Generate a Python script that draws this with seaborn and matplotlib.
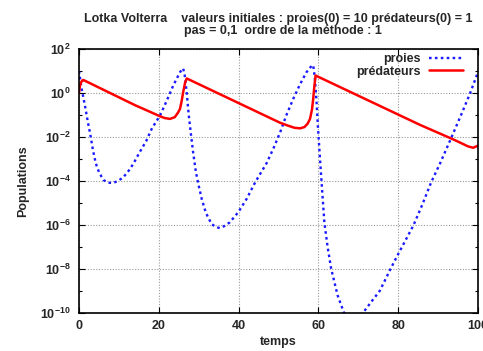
import math
import matplotlib
matplotlib.use("Agg")
import matplotlib.pyplot as plt
from matplotlib.ticker import FixedLocator, FuncFormatter, NullFormatter
from matplotlib.lines import Line2D
import pandas as pd
import seaborn as sns

# Euler scheme (step 0.1): prey and predator populations over time
t_proies = [0, 0.67, 1.5, 2.3, 2.8, 3.5, 4.2, 5.0, 6.1, 7.3, 8.5, 9.8, 11.1, 12.4,
            13.6, 15.2, 16.9, 18.3, 20.3, 22.0, 23.6, 25.3, 25.8, 26.1, 26.5, 27.0,
            27.5, 28.0, 28.6, 29.3, 30.1, 30.8, 31.8, 33.2, 34.3, 35.3, 36.5, 37.8,
            39.9, 42.0, 44.2, 47.0, 48.8, 50.4, 52.0, 53.7, 55.4, 57.0, 58.0, 58.7,
            59.1, 59.5, 59.9, 60.4, 61.0, 61.5, 62.3, 63.2, 64.8, 66.4, 68.7, 71.2,
            73.3, 75.4, 78.1, 79.6, 83.8, 86.0, 88.3, 90.5, 93.4, 96.0, 98.0, 100]
proies = [10.0, 1.5, 2.6e-1, 4.0e-2, 1.4e-2, 2.5e-3, 6.3e-4, 2.5e-4, 1.1e-4, 8.3e-5,
          7.9e-5, 1.0e-4, 1.45e-4, 2.8e-4, 5.9e-4, 2.0e-3, 6.8e-3, 2.5e-2, 9.3e-2,
          0.45, 2.14, 8.7, 11.7, 13.2, 6.3, 1.0, 0.1, 1.6e-2, 2.0e-3, 2.5e-4, 5.0e-5,
          1.4e-5, 3.5e-6, 1.1e-6, 7.9e-7, 7.1e-7, 8.9e-7, 1.3e-6, 3.7e-6, 1.5e-5,
          8.9e-5, 6.3e-4, 3.2e-3, 1.6e-2, 0.1, 0.54, 2.5, 8.7, 14.8, 18.6, 5.0, 0.5,
          2.5e-2, 1.0e-3, 2.5e-5, 1.26e-6, 1.0e-7, 1.0e-8, 6.3e-10, 1.0e-10, 4.0e-11,
          1.0e-10, 3.2e-10, 1.0e-9, 1.0e-8, 3.4e-8, 9.3e-7, 7.9e-6, 8.9e-5, 6.3e-4,
          1.0e-2, 0.126, 0.95, 8.9]

t_predateurs = [0, 0.25, 0.5, 0.8, 1.08, 14.0, 20.3, 21.5, 22.8, 24.0, 24.8, 25.3,
                25.7, 26.1, 26.6, 27.0, 50.4, 52.5, 54.0, 55.4, 56.5, 57.3, 57.9,
                58.4, 58.7, 59.0, 59.3, 85.5, 93.4, 96.0, 97.5, 98.8, 100]
predateurs = [1.0, 2.14, 3.0, 3.63, 3.9, 0.28, 8.7e-2, 7.2e-2, 6.6e-2, 7.9e-2, 0.126,
              0.186, 0.4, 1.07, 3.0, 4.57, 4.4e-2, 3.2e-2, 2.6e-2, 2.45e-2, 2.8e-2,
              4.0e-2, 6.6e-2, 0.18, 0.54, 2.14, 6.2, 3.5e-2, 8.3e-3, 5.0e-3, 3.7e-3,
              3.2e-3, 4.0e-3]

x_ticks = [0, 20, 40, 60, 80, 100]
y_major = [1e-10, 1e-8, 1e-6, 1e-4, 1e-2, 1e0, 1e2]
y_minor = [1e-9, 1e-7, 1e-5, 1e-3, 1e-1, 1e1]

titre1 = "Lotka Volterra    valeurs initiales : proies(0) = 10 prédateurs(0) = 1"
titre2 = "pas = 0,1  ordre de la méthode : 1"

sns.set_style("ticks")
plt.rcParams["font.family"] = ["Liberation Sans", "DejaVu Sans"]
plt.rcParams["font.weight"] = "bold"
plt.rcParams["mathtext.fontset"] = "custom"
plt.rcParams["mathtext.rm"] = "Liberation Sans:bold"
plt.rcParams["mathtext.bf"] = "Liberation Sans:bold"
plt.rcParams["mathtext.default"] = "rm"

fig = plt.figure(figsize=(4.83, 3.51), dpi=100)
W, H = 483, 351
ax = fig.add_axes([79 / W, 1 - 312.7 / H, (478 - 79) / W, (312.7 - 49) / H])

df_p = pd.DataFrame({"temps": t_proies, "pop": proies})
df_q = pd.DataFrame({"temps": t_predateurs, "pop": predateurs})

bleu = "#1a1aff"
rouge = "#ff0000"
pointille = (0, (1.1, 1.4))

sns.lineplot(data=df_p, x="temps", y="pop", ax=ax, color=bleu, lw=1.7,
             linestyle=pointille, sort=False, estimator=None)
sns.lineplot(data=df_q, x="temps", y="pop", ax=ax, color=rouge, lw=1.8,
             sort=False, estimator=None)

ax.set_yscale("log")
ax.set_xlim(0, 100)
ax.set_ylim(1e-10, 1e2)

ax.xaxis.set_major_locator(FixedLocator(x_ticks))
ax.xaxis.set_minor_locator(FixedLocator([]))
ax.yaxis.set_major_locator(FixedLocator(y_major))
ax.yaxis.set_minor_locator(FixedLocator(y_minor))
ax.yaxis.set_minor_formatter(NullFormatter())
ax.yaxis.set_major_formatter(FuncFormatter(
    lambda v, p: r"$10^{%d}$" % round(math.log10(v))))
ax.xaxis.set_major_formatter(FuncFormatter(lambda v, p: "%d" % v))

ax.tick_params(which="both", direction="in", top=True, right=True,
               labelsize=9, width=0.8, color="black")
ax.tick_params(which="major", length=4)
ax.tick_params(which="minor", length=2.5)
ax.tick_params(axis="x", pad=5)
ax.tick_params(axis="y", pad=6)

ax.grid(True, which="major", color="#9a9a9a", lw=0.8, linestyle=(0, (1, 1.5)))
for s in ax.spines.values():
    s.set_linewidth(1.2)
    s.set_color("black")

ax.set_xlabel("temps", fontsize=9, fontweight="bold", labelpad=3)
ax.set_ylabel("Populations", fontsize=9, fontweight="bold", labelpad=8)

fig.text(278 / W, 1 - 19 / H, titre1, ha="center", va="center",
         fontsize=9, fontweight="bold")
fig.text(283 / W, 1 - 31 / H, titre2, ha="center", va="center",
         fontsize=9, fontweight="bold")

handles = [Line2D([], [], color=bleu, lw=1.7, linestyle=pointille),
           Line2D([], [], color=rouge, lw=1.8)]
leg = ax.legend(handles, ["proies", "prédateurs"], loc="upper right",
                bbox_to_anchor=(463 / W, 1 - 53 / H), bbox_transform=fig.transFigure,
                markerfirst=False, frameon=False, fontsize=9, handlelength=2.7,
                handletextpad=0.7, labelspacing=0.05, borderpad=0, borderaxespad=0)

fig.savefig("out.png", dpi=100)
